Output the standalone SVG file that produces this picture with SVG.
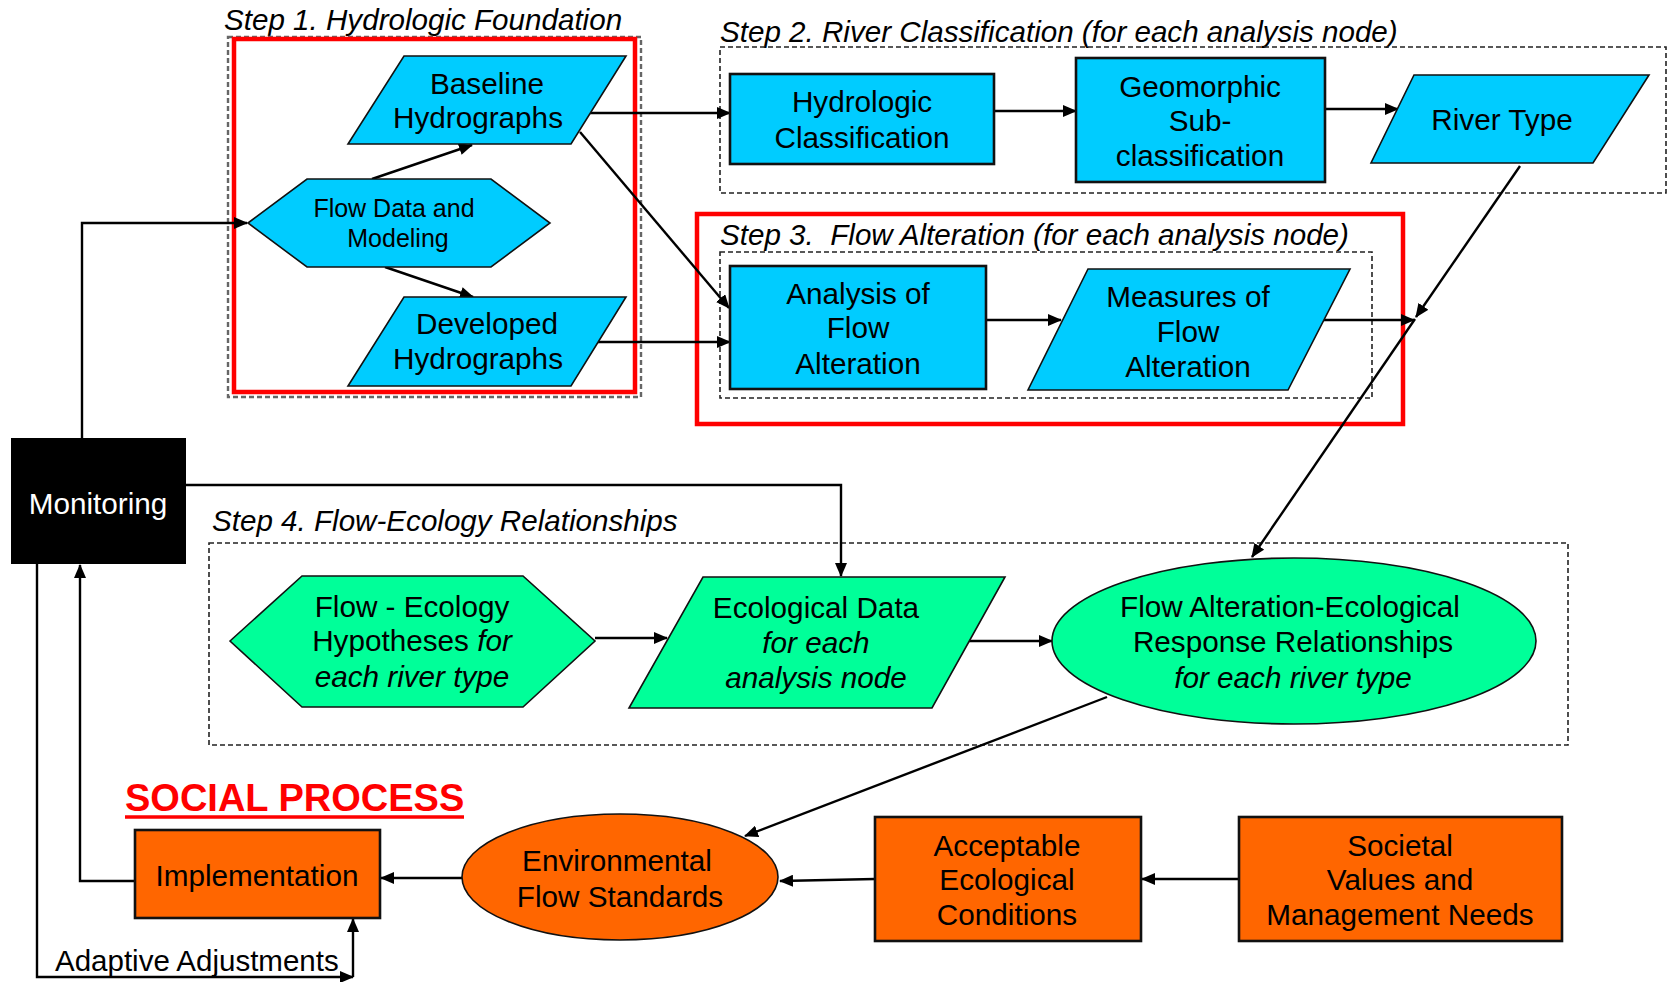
<svg xmlns="http://www.w3.org/2000/svg" width="1669" height="982" viewBox="0 0 1669 982">
<style>
text{font-family:"Liberation Sans",Arial,sans-serif;font-size:29.7px;fill:#000;text-anchor:middle}
.lbl{font-style:italic;text-anchor:start;font-size:29.6px}
.it{font-style:italic}
.cy{fill:#00CCFF;stroke:#111;stroke-width:1.6}
.cyr{fill:#00CCFF;stroke:#111;stroke-width:2.6}
.gr{fill:#00FF99;stroke:#111;stroke-width:1.6}
.or{fill:#FF6600;stroke:#111;stroke-width:1.6}
.orr{fill:#FF6600;stroke:#111;stroke-width:2.6}
.dash{fill:none;stroke:#222;stroke-width:1.6;stroke-dasharray:5 3}
.dashg{fill:none;stroke:#666;stroke-width:2.4;stroke-dasharray:5 3}
.red{fill:none;stroke:#FF0000;stroke-width:4.5}
.c{fill:none;stroke:#000;stroke-width:2.4;marker-end:url(#ah)}
</style>
<defs>
<marker id="ah" markerUnits="userSpaceOnUse" markerWidth="14" markerHeight="12" refX="13" refY="6" orient="auto">
<path d="M0,0 L14,6 L0,12 z" fill="#000"/>
</marker>
</defs>
<rect width="1669" height="982" fill="#fff"/>

<g id="frames">
<text class="lbl" x="224" y="30">Step 1. Hydrologic Foundation</text>
<rect class="dashg" x="228" y="37" width="413" height="360"/>
<rect class="red" x="234" y="39" width="401" height="353"/>
<text class="lbl" x="720" y="42">Step 2. River Classification (for each analysis node)</text>
<rect class="dash" x="720" y="47" width="946" height="146"/>
<rect class="red" x="697" y="214" width="706" height="210"/>
<text class="lbl" x="720" y="245" xml:space="preserve">Step 3.  Flow Alteration (for each analysis node)</text>
<rect class="dash" x="720" y="252" width="652" height="146"/>
<text class="lbl" x="212" y="531">Step 4. Flow-Ecology Relationships</text>
<rect class="dash" x="209" y="543" width="1359" height="202"/>
<text x="125" y="811" style="font-weight:bold;font-size:38px;fill:#FF0000;text-anchor:start">SOCIAL PROCESS</text>
<line x1="125" y1="817" x2="464" y2="817" stroke="#FF0000" stroke-width="3.5"/>
</g>

<g id="connectors">
<path class="c" d="M82,438 V223 H247"/>
<path class="c" d="M372,179 L472,145"/>
<path class="c" d="M385,267 L473,297"/>
<path class="c" d="M590,113 H730"/>
<path class="c" d="M580,132 L729,308"/>
<path class="c" d="M598,342 H730"/>
<path class="c" d="M994,111 H1076"/>
<path class="c" d="M1325,109 H1398"/>
<path class="c" d="M986,320 H1061"/>
<path class="c" d="M1323,320 H1414"/>
<path class="c" d="M1520,166 L1416,317"/>
<path class="c" d="M1415,319 L1252,557"/>
<path class="c" d="M186,485 H841 V576"/>
<path class="c" d="M595,638 H667"/>
<path class="c" d="M968,641 H1052"/>
<path class="c" d="M1107,697 L745,836"/>
<path class="c" d="M1239,879 H1142"/>
<path class="c" d="M875,879 L780,881"/>
<path class="c" d="M462,878 H381"/>
<path class="c" d="M135,881 H80 V565"/>
<path class="c" d="M37,564 V977 H353"/>
<path class="c" d="M353,977 V919"/>
<text x="55" y="971" style="font-size:29.5px;text-anchor:start">Adaptive Adjustments</text>
</g>

<g id="baseline-hydrographs">
<polygon class="cy" points="404,56 626,56 571,144 348,144"/>
<text x="487" y="94">Baseline</text>
<text x="478" y="128">Hydrographs</text>
</g>
<g id="flow-data">
<polygon class="cy" points="248,223 307,179 491,179 550,223 491,267 307,267"/>
<text x="394" y="217" style="font-size:25px">Flow Data and</text>
<text x="398" y="247" style="font-size:25px">Modeling</text>
</g>
<g id="developed-hydrographs">
<polygon class="cy" points="404,297 626,297 571,386 348,386"/>
<text x="487" y="334">Developed</text>
<text x="478" y="369">Hydrographs</text>
</g>
<g id="hydrologic-classification">
<rect class="cyr" x="730" y="74" width="264" height="90"/>
<text x="862" y="112">Hydrologic</text>
<text x="862" y="148">Classification</text>
</g>
<g id="geomorphic">
<rect class="cyr" x="1076" y="58" width="249" height="124"/>
<text x="1200" y="97">Geomorphic</text>
<text x="1200" y="131">Sub-</text>
<text x="1200" y="166">classification</text>
</g>
<g id="river-type">
<polygon class="cy" points="1414,75 1649,75 1593,163 1371,163"/>
<text x="1502" y="130">River Type</text>
</g>
<g id="analysis">
<rect class="cyr" x="730" y="266" width="256" height="123"/>
<text x="858" y="304">Analysis of</text>
<text x="858" y="338">Flow</text>
<text x="858" y="374">Alteration</text>
</g>
<g id="measures">
<polygon class="cy" points="1088,269 1350,269 1288,390 1028,390"/>
<text x="1188" y="307">Measures of</text>
<text x="1188" y="342">Flow</text>
<text x="1188" y="377">Alteration</text>
</g>
<g id="monitoring">
<rect x="11" y="438" width="175" height="126" fill="#000"/>
<text x="98" y="514" style="fill:#fff">Monitoring</text>
</g>
<g id="flow-ecology">
<polygon class="gr" points="230,641 302,576 523,576 595,641 523,707 302,707"/>
<text x="412" y="617">Flow - Ecology</text>
<text x="412" y="651">Hypotheses <tspan class="it">for</tspan></text>
<text x="412" y="687" class="it">each river type</text>
</g>
<g id="ecological-data">
<polygon class="gr" points="703,577 1005,577 932,708 629,708"/>
<text x="816" y="618">Ecological Data</text>
<text x="816" y="653" class="it">for each</text>
<text x="816" y="688" class="it">analysis node</text>
</g>
<g id="flow-alteration-ecological">
<ellipse class="gr" cx="1294" cy="641" rx="242" ry="83"/>
<text x="1290" y="617">Flow Alteration-Ecological</text>
<text x="1293" y="652">Response Relationships</text>
<text x="1293" y="688" class="it">for each river type</text>
</g>
<g id="implementation">
<rect class="orr" x="135" y="830" width="245" height="88"/>
<text x="257" y="886">Implementation</text>
</g>
<g id="environmental">
<ellipse class="or" cx="620" cy="877" rx="158" ry="63"/>
<text x="617" y="871">Environmental</text>
<text x="620" y="907">Flow Standards</text>
</g>
<g id="acceptable">
<rect class="orr" x="875" y="817" width="266" height="124"/>
<text x="1007" y="856">Acceptable</text>
<text x="1007" y="890">Ecological</text>
<text x="1007" y="925">Conditions</text>
</g>
<g id="societal">
<rect class="orr" x="1239" y="817" width="323" height="124"/>
<text x="1400" y="856">Societal</text>
<text x="1400" y="890">Values and</text>
<text x="1400" y="925">Management Needs</text>
</g>
</svg>
